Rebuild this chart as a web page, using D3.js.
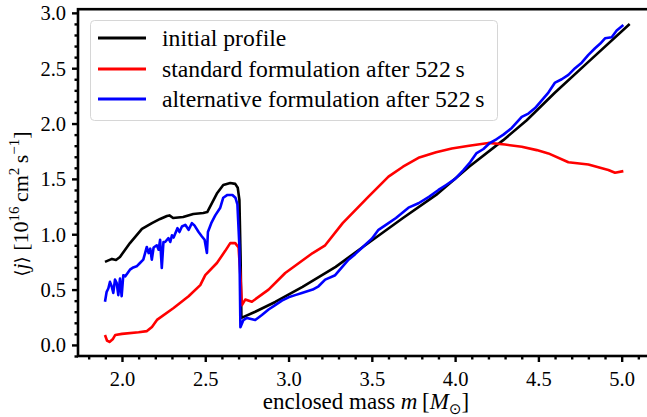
<!DOCTYPE html>
<html><head><meta charset="utf-8">
<script src="https://cdn.jsdelivr.net/npm/d3@7"></script>
<style>
html,body{margin:0;padding:0;background:#fff;}
svg{display:block;}
</style></head>
<body>
<script>
// ---- data ----
const initialMass = [1.898,1.94,1.964,1.988,2.048,2.12,2.18,2.229,2.27,2.285,2.307,2.367,2.428,2.488,2.512,2.572,2.608,2.65,2.68,2.695,2.705,2.712,2.717,2.8,2.92,3.084,3.283,3.446,3.687,3.886,4.084,4.289,4.43,4.6,4.8,5.048];
const initialJ    = [0.75,0.777,0.768,0.795,0.92,1.048,1.10,1.138,1.165,1.17,1.147,1.156,1.183,1.192,1.20,1.373,1.445,1.463,1.455,1.42,1.31,0.8,0.244,0.30,0.388,0.524,0.705,0.885,1.147,1.355,1.61,1.85,2.03,2.28,2.557,2.90];

const standardMass = [1.898,1.91,1.925,1.946,1.96,2.0,2.1,2.15,2.18,2.21,2.31,2.40,2.47,2.50,2.57,2.62,2.65,2.68,2.70,2.712,2.72,2.74,2.78,2.88,2.98,3.145,3.22,3.325,3.48,3.60,3.687,3.78,3.886,3.98,4.084,4.2,4.3,4.4,4.49,4.56,4.68,4.8,4.92,4.96,5.01];
const standardJ    = [0.09,0.04,0.027,0.054,0.09,0.10,0.115,0.125,0.163,0.226,0.334,0.44,0.54,0.63,0.74,0.85,0.92,0.92,0.88,0.6,0.36,0.41,0.39,0.50,0.65,0.83,0.90,1.10,1.34,1.52,1.61,1.69,1.74,1.775,1.80,1.825,1.81,1.79,1.76,1.73,1.65,1.63,1.58,1.555,1.57];

const altMass = [1.898,1.908,1.918,1.928,1.938,1.948,1.958,1.968,1.978,1.988,1.998,2.008,2.02,2.048,2.068,2.088,2.108,2.128,2.149,2.16,2.17,2.179,2.19,2.209,2.22,2.229,2.239,2.249,2.259,2.279,2.29,2.3,2.31,2.333,2.345,2.36,2.38,2.4,2.42,2.435,2.46,2.48,2.496,2.51,2.516,2.536,2.56,2.59,2.608,2.633,2.663,2.681,2.693,2.705,2.711,2.729,2.75,2.80,2.84,2.88,2.92,2.96,3.0,3.04,3.08,3.145,3.18,3.22,3.28,3.32,3.36,3.40,3.446,3.50,3.54,3.60,3.645,3.72,3.78,3.845,3.90,3.946,4.0,4.05,4.09,4.127,4.17,4.205,4.25,4.29,4.34,4.40,4.44,4.48,4.52,4.56,4.60,4.64,4.68,4.72,4.76,4.80,4.84,4.87,4.90,4.94,4.97,5.01];
const altJ    = [0.39,0.48,0.51,0.57,0.53,0.47,0.59,0.56,0.45,0.60,0.44,0.63,0.62,0.68,0.70,0.71,0.74,0.77,0.885,0.83,0.87,0.77,0.88,0.90,0.86,0.95,0.695,0.93,0.93,0.965,0.93,0.99,0.97,1.055,1.02,1.07,1.085,1.04,1.10,1.08,1.02,0.98,0.95,0.83,1.02,1.10,1.17,1.24,1.33,1.355,1.355,1.33,1.27,0.89,0.16,0.225,0.244,0.225,0.27,0.32,0.36,0.40,0.43,0.45,0.47,0.50,0.53,0.59,0.63,0.70,0.77,0.82,0.885,0.96,1.04,1.10,1.147,1.24,1.28,1.34,1.40,1.445,1.50,1.58,1.65,1.73,1.77,1.82,1.86,1.90,1.96,2.06,2.09,2.14,2.21,2.28,2.37,2.40,2.44,2.50,2.55,2.62,2.68,2.72,2.77,2.78,2.84,2.89];

const xTicks = [2.0,2.5,3.0,3.5,4.0,4.5,5.0];
const yTicks = [0.0,0.5,1.0,1.5,2.0,2.5,3.0];
const legendLabels = ["initial profile","standard formulation after 522\u2009s","alternative formulation after 522\u2009s"];
const seriesColors = ["#000000","#ff0000","#0000ff"];

// ---- drawing ----
const SERIF = "'Liberation Serif', 'Times New Roman', serif";
const W = 647, H = 417;
const svg = d3.select("body").append("svg").attr("width",W).attr("height",H)
  .style("font-family", SERIF);

const x = d3.scaleLinear().domain([1.736,5.2]).range([78,655]);
const y = d3.scaleLinear().domain([-0.1,3.033]).range([356,9.2]);

const series = [
  initialMass.map((m,i)=>[m,initialJ[i]]),
  standardMass.map((m,i)=>[m,standardJ[i]]),
  altMass.map((m,i)=>[m,altJ[i]])
];

const line = d3.line().x(d=>x(d[0])).y(d=>y(d[1]));
const gLines = svg.append("g");
series.forEach((s,i)=>{
  gLines.append("path").datum(s).attr("d",line)
    .attr("fill","none").attr("stroke",seriesColors[i])
    .attr("stroke-width",2.6).attr("stroke-linejoin","round").attr("stroke-linecap","butt");
});

// axes
const fs = 20.5;
const xAxis = d3.axisBottom(x).tickValues(xTicks).tickFormat(d3.format(".1f")).tickSize(6).tickPadding(5);
const xMinor = d3.axisBottom(x).tickValues(d3.range(18,53).map(v=>v/10).filter(v=>!xTicks.some(t=>Math.abs(t-v)<1e-6))).tickSize(3.5).tickFormat("");
const yAxis = d3.axisLeft(y).tickValues(yTicks).tickFormat(d3.format(".1f")).tickSize(6).tickPadding(5);
const yMinor = d3.axisLeft(y).tickValues(d3.range(-1,31).map(v=>v/10).filter(v=>!yTicks.some(t=>Math.abs(t-v)<1e-6))).tickSize(3.5).tickFormat("");

function styleAxis(g){
  g.attr("font-family", null).style("font-family", SERIF);
  g.select(".domain").remove();
  g.selectAll(".tick line").attr("stroke","#000").attr("stroke-width",2.4);
  g.selectAll(".tick text").attr("font-size",fs).attr("fill","#000").style("font-family",SERIF);
}
const gx = svg.append("g").attr("transform","translate(0,356)").call(xAxis).call(styleAxis);
svg.append("g").attr("transform","translate(0,356)").call(xMinor).call(styleAxis);
const gy = svg.append("g").attr("transform","translate(78,0)").call(yAxis).call(styleAxis);
svg.append("g").attr("transform","translate(78,0)").call(yMinor).call(styleAxis);
gx.selectAll(".tick text").attr("dy", null).attr("y",30);
gy.selectAll(".tick text").attr("dy","0.34em").attr("x",-12);

// spines
svg.append("rect").attr("x",78).attr("y",9.2).attr("width",577).attr("height",356-9.2)
  .attr("fill","none").attr("stroke","#000").attr("stroke-width",2.6);

// legend
const lg = svg.append("g");
lg.append("rect").attr("x",90.5).attr("y",20.5).attr("width",407).attr("height",100)
  .attr("rx",4).attr("fill","#fff").attr("fill-opacity",0.8).attr("stroke","#d6d6d6").attr("stroke-width",1);
const rowY = [38,69,99];
legendLabels.forEach((t,i)=>{
  lg.append("line").attr("x1",98).attr("x2",146).attr("y1",rowY[i]).attr("y2",rowY[i])
    .attr("stroke",seriesColors[i]).attr("stroke-width",2.8);
  lg.append("text").attr("x",162).attr("y",rowY[i]).attr("dy","0.33em")
    .attr("font-size",23.7).attr("fill","#000").text(t);
});

// x label
const xl = svg.append("text").attr("x",366).attr("y",409).attr("text-anchor","middle").attr("font-size",23).attr("fill","#000");
xl.append("tspan").text("enclosed mass ");
xl.append("tspan").attr("font-style","italic").text("m");
xl.append("tspan").text("\u2009[");
xl.append("tspan").attr("font-style","italic").text("M");
xl.append("tspan").attr("font-size",15).attr("dy",5).style("font-family","'DejaVu Sans', sans-serif").text("\u2299");
xl.append("tspan").attr("dy",-5).text("]");

// y label
const yl = svg.append("text").attr("transform","translate(28,204) rotate(-90)").attr("text-anchor","middle").attr("font-size",22).attr("fill","#000");
yl.append("tspan").style("font-family","'DejaVu Serif', serif").attr("font-size",18).text("\u27E8");
yl.append("tspan").attr("font-style","italic").text("j");
yl.append("tspan").style("font-family","'DejaVu Serif', serif").attr("font-size",18).text("\u27E9");
yl.append("tspan").text(" [10");
yl.append("tspan").attr("font-size",15).attr("dy",-9).text("16");
yl.append("tspan").attr("dy",9).text("\u2009cm");
yl.append("tspan").attr("font-size",15).attr("dy",-9).text("2");
yl.append("tspan").attr("dy",9).text("\u2009s");
yl.append("tspan").attr("font-size",15).attr("dy",-9).text("\u22121");
yl.append("tspan").attr("dy",9).text("]");
</script>
</body></html>
